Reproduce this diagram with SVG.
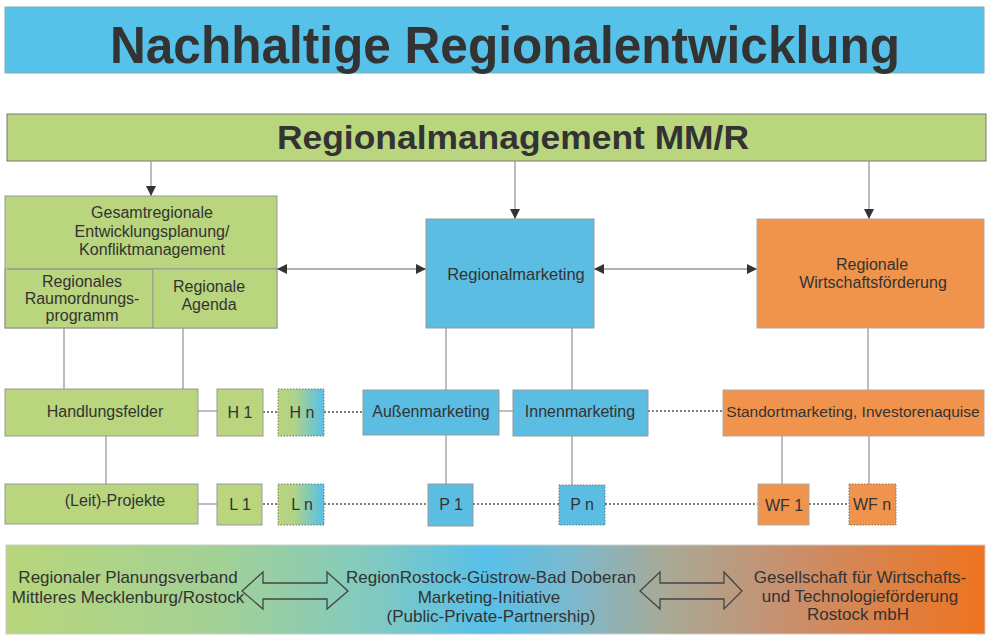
<svg xmlns="http://www.w3.org/2000/svg" width="987" height="636" viewBox="0 0 987 636">
<defs>
<style>
text{font-family:"Liberation Sans",Arial,sans-serif;fill:#333;font-size:16px;text-anchor:middle}
.g{fill:#b9d57e;stroke:#999;stroke-width:1}
.b{fill:#5bbde1;stroke:#999;stroke-width:1}
.o{fill:#f0944d;stroke:#aaa;stroke-width:1}
.dot{stroke-dasharray:1.5 1.5;stroke:#777}
.ln{stroke:#999;stroke-width:1.3;fill:none}
.dl{stroke:#555;stroke-width:1.5;stroke-dasharray:2 2;fill:none}
.ar{stroke:#999;stroke-width:1.3;fill:none;marker-end:url(#ah)}
.ar2{stroke:#999;stroke-width:1.3;fill:none;marker-end:url(#ah);marker-start:url(#ah)}
.ha{fill:none;stroke:#444;stroke-width:1.3}
.bt{font-size:17px}
</style>
<marker id="ah" viewBox="0 0 10 10" refX="10" refY="5" markerWidth="10" markerHeight="10" markerUnits="userSpaceOnUse" orient="auto-start-reverse">
<path d="M0,0 L10,5 L0,10 z" fill="#333"/>
</marker>
<linearGradient id="gb" x1="0" y1="0" x2="1" y2="0">
<stop offset="0" stop-color="#b9d57e"/>
<stop offset="0.35" stop-color="#b0d386"/>
<stop offset="1" stop-color="#56c0ea"/>
</linearGradient>
<linearGradient id="bottom" x1="0" y1="0" x2="1" y2="0">
<stop offset="0" stop-color="#b8d67a"/>
<stop offset="0.22" stop-color="#a2d196"/>
<stop offset="0.38" stop-color="#80c9c2"/>
<stop offset="0.49" stop-color="#57c0ea"/>
<stop offset="0.58" stop-color="#7cb9cd"/>
<stop offset="0.67" stop-color="#a7aa97"/>
<stop offset="0.8" stop-color="#c98f6d"/>
<stop offset="1" stop-color="#ef7320"/>
</linearGradient>
</defs>
<rect width="987" height="636" fill="#fff"/>

<g id="title">
<rect x="5" y="7" width="979" height="66" fill="#56c2ea" stroke="#8aa" stroke-width="1"/>
<text x="110" y="63" style="font-size:52px;font-weight:bold;text-anchor:start" textLength="790" lengthAdjust="spacingAndGlyphs">Nachhaltige Regionalentwicklung</text>
</g>

<g id="regionalmanagement">
<rect x="7" y="114" width="979" height="47" fill="#b9d57e" stroke="#777" stroke-width="1"/>
<text x="277" y="149" style="font-size:34px;font-weight:bold;text-anchor:start" textLength="472" lengthAdjust="spacingAndGlyphs">Regionalmanagement MM/R</text>
</g>

<g id="connectors">
<line class="ar" x1="151" y1="161" x2="151" y2="196"/>
<line class="ar" x1="515" y1="161" x2="515" y2="219"/>
<line class="ar" x1="869" y1="161" x2="869" y2="219"/>
<line class="ar2" x1="277" y1="269" x2="426" y2="269"/>
<line class="ar2" x1="594" y1="269" x2="757" y2="269"/>
<line class="ln" x1="64" y1="328" x2="64" y2="389"/>
<line class="ln" x1="183" y1="328" x2="183" y2="389"/>
<line class="ln" x1="106" y1="436" x2="106" y2="484"/>
<line class="ln" x1="198" y1="411" x2="217" y2="411"/>
<line class="ln" x1="198" y1="504" x2="217" y2="504"/>
<line class="dl" x1="263" y1="412" x2="278" y2="412"/>
<line class="dl" x1="324" y1="412" x2="363" y2="412"/>
<line class="dl" x1="263" y1="504" x2="278" y2="504"/>
<line class="dl" x1="324" y1="504" x2="428" y2="504"/>
<line class="dl" x1="473" y1="504" x2="559" y2="504"/>
<line class="dl" x1="605" y1="504" x2="758" y2="504"/>
<line class="dl" x1="809" y1="504" x2="849" y2="504"/>
<line class="dl" x1="648" y1="411" x2="723" y2="411"/>
<line class="ln" x1="499" y1="411" x2="513" y2="411"/>
<line class="ln" x1="446" y1="328" x2="446" y2="390"/>
<line class="ln" x1="572" y1="328" x2="572" y2="390"/>
<line class="ln" x1="868" y1="328" x2="868" y2="390"/>
<line class="ln" x1="446" y1="435" x2="446" y2="484"/>
<line class="ln" x1="572" y1="436" x2="572" y2="485"/>
<line class="ln" x1="782" y1="436" x2="782" y2="484"/>
<line class="ln" x1="869" y1="436" x2="869" y2="484"/>
</g>

<g id="gesamtregionale">
<rect class="g" x="5" y="196" width="272" height="132"/>
<line x1="8" y1="269" x2="277" y2="269" stroke="#888" stroke-width="1"/>
<text x="152" y="218">Gesamtregionale</text>
<text x="152" y="237">Entwicklungsplanung/</text>
<text x="152" y="255">Konfliktmanagement</text>
</g>
<g id="raumordnungsprogramm">
<rect class="g" x="5" y="269" width="148" height="59" style="fill:none"/>
<text x="82" y="287">Regionales</text>
<text x="82" y="304">Raumordnungs-</text>
<text x="82" y="321">programm</text>
</g>
<g id="agenda">
<rect class="g" x="153" y="269" width="124" height="59"/>
<text x="209" y="292">Regionale</text>
<text x="209" y="310">Agenda</text>
</g>

<g id="regionalmarketing">
<rect class="b" x="426" y="219" width="168" height="109"/>
<text x="516" y="280" style="font-size:16.5px">Regionalmarketing</text>
</g>

<g id="wirtschaftsfoerderung">
<rect class="o" x="757" y="219" width="227" height="109"/>
<text x="872" y="270">Regionale</text>
<text x="873" y="288">Wirtschaftsförderung</text>
</g>

<g id="handlungsfelder">
<rect class="g" x="5" y="389" width="193" height="47"/>
<text x="105" y="417">Handlungsfelder</text>
</g>
<g id="h1">
<rect class="g" x="217" y="389" width="46" height="47"/>
<text x="240" y="418">H 1</text>
</g>
<g id="hn">
<rect x="278" y="389" width="46" height="47" fill="url(#gb)" class="dot" stroke-width="1"/>
<text x="302" y="418">H n</text>
</g>
<g id="aussenmarketing">
<rect class="b" x="363" y="390" width="136" height="45"/>
<text x="431" y="417">Außenmarketing</text>
</g>
<g id="innenmarketing">
<rect class="b" x="513" y="390" width="135" height="46"/>
<text x="580" y="417">Innenmarketing</text>
</g>
<g id="standortmarketing">
<rect class="o" x="723" y="390" width="261" height="46"/>
<text x="853" y="417" style="font-size:15.5px">Standortmarketing, Investorenaquise</text>
</g>

<g id="leitprojekte">
<rect class="g" x="5" y="484" width="193" height="40"/>
<text x="115" y="506">(Leit)-Projekte</text>
</g>
<g id="l1">
<rect class="g" x="217" y="484" width="45" height="41"/>
<text x="240" y="510">L 1</text>
</g>
<g id="ln">
<rect x="278" y="484" width="46" height="41" fill="url(#gb)" class="dot" stroke-width="1"/>
<text x="302" y="510">L n</text>
</g>
<g id="p1">
<rect class="b" x="428" y="484" width="45" height="42"/>
<text x="451" y="510">P 1</text>
</g>
<g id="pn">
<rect x="559" y="485" width="46" height="40" fill="#5bbde1" class="dot" stroke-width="1"/>
<text x="582" y="510">P n</text>
</g>
<g id="wf1">
<rect class="o" x="758" y="484" width="51" height="41"/>
<text x="784" y="511">WF 1</text>
</g>
<g id="wfn">
<rect x="849" y="484" width="47" height="41" fill="#f0944d" class="dot" stroke-width="1"/>
<text x="872" y="510">WF n</text>
</g>

<g id="partners">
<rect x="6" y="545" width="979" height="89" fill="url(#bottom)" stroke="#ccc" stroke-width="1"/>
<text class="bt" x="128" y="583">Regionaler Planungsverband</text>
<text class="bt" x="128" y="603">Mittleres Mecklenburg/Rostock</text>
<polygon class="ha" points="242,591 263,572 263,583 327,583 327,572 348,591 327,609 327,599 263,599 263,609"/>
<text class="bt" x="491" y="583">RegionRostock-Güstrow-Bad Doberan</text>
<text class="bt" x="489" y="603">Marketing-Initiative</text>
<text class="bt" x="491" y="622">(Public-Private-Partnership)</text>
<polygon class="ha" points="640,591 660,572 660,583 724,583 724,572 742,591 724,609 724,599 660,599 660,609"/>
<text class="bt" x="860" y="583">Gesellschaft für Wirtschafts-</text>
<text class="bt" x="860" y="602">und Technologieförderung</text>
<text class="bt" x="858" y="620">Rostock mbH</text>
</g>
</svg>
